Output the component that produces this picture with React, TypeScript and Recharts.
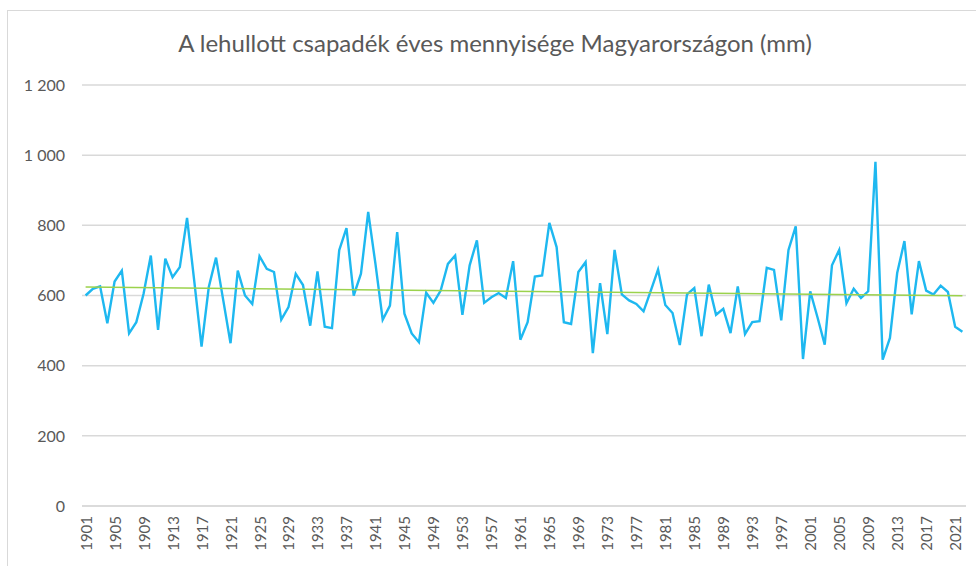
import React from "react";
import {
  LineChart,
  Line,
  XAxis,
  YAxis,
  CartesianGrid,
  ReferenceLine,
} from "recharts";

const firstYear = 1901;

// annual precipitation, mm
const rainfall = [
  600, 619, 626, 521, 640, 671, 492, 524, 605, 714,
  502, 705, 652, 681, 821, 640, 454, 624, 708, 586,
  464, 671, 600, 576, 712, 676, 667, 531, 567, 662,
  630, 514, 669, 511, 507, 729, 792, 600, 662, 838,
  690, 531, 571, 781, 548, 492, 467, 608, 579, 614,
  690, 714, 545, 686, 757, 579, 595, 607, 593, 698,
  474, 524, 654, 657, 807, 738, 524, 519, 667, 695,
  436, 635, 490, 730, 603, 586, 576, 555, 614, 674,
  573, 550, 459, 603, 621, 484, 631, 545, 562, 493,
  626, 490, 524, 527, 679, 673, 529, 730, 797, 419,
  612, 538, 460, 686, 730, 578, 619, 593, 612, 981,
  417, 479, 664, 755, 546, 698, 614, 603, 628, 610,
  511, 497,
];

const years = rainfall.map((_, i) => firstYear + i);

// linear trend, start and end values
const trendEnds = [624, 599];

const yTicks = [0, 200, 400, 600, 800, 1000, 1200];

const data = years.map((year, i) => ({ year, mm: rainfall[i] }));

const textColor = "#595959";
const gridColor = "#D9D9D9";
const font = "Lato, 'Noto Sans', sans-serif";

const fmt = (v: number) => (v >= 1000 ? v.toString().replace(/^(\d)(\d{3})$/, "$1 $2") : String(v));

function YearTick({ x, y, payload }: any) {
  return (
    <text
      transform={`translate(${x},${y}) rotate(-90)`}
      textAnchor="end"
      dominantBaseline="central"
      fill={textColor}
      fontSize={15}
      fontFamily={font}
    >
      {payload.value}
    </text>
  );
}

export default function App() {
  return (
    <div
      style={{
        position: "absolute",
        left: 0,
        top: 0,
        width: 976,
        height: 566,
        overflow: "hidden",
        background: "#fff",
      }}
    >
      <div
        style={{
          position: "absolute",
          left: 7,
          top: 10,
          right: 0,
          bottom: 0,
          borderTop: `1px solid ${gridColor}`,
          borderLeft: `1px solid ${gridColor}`,
        }}
      />
      <div
        style={{
          position: "absolute",
          left: 0,
          top: 28,
          width: 990,
          textAlign: "center",
          fontFamily: font,
          fontSize: 24,
          color: textColor,
        }}
      >
        A lehullott csapadék éves mennyisége Magyarországon (mm)
      </div>
      <LineChart
        width={976}
        height={566}
        data={data}
        margin={{ top: 85, right: 10, left: 0, bottom: 0 }}
        style={{ position: "absolute", left: 0, top: 0 }}
      >
        <CartesianGrid vertical={false} stroke={gridColor} strokeWidth={1.5} />
        <XAxis
          dataKey="year"
          interval={3}
          height={60}
          padding={{ left: 3.6, right: 3.6 }}
          axisLine={{ stroke: gridColor, strokeWidth: 1.5 }}
          tickLine={false}
          tickSize={0}
          tickMargin={10}
          tick={<YearTick />}
        />
        <YAxis
          domain={[0, 1200]}
          ticks={yTicks}
          width={82}
          axisLine={false}
          tickLine={false}
          tickSize={0}
          tickMargin={17}
          tickFormatter={fmt}
          tick={{ fill: textColor, fontSize: 16, fontFamily: font }}
        />
        <Line
          type="linear"
          dataKey="mm"
          stroke="#1EB8F0"
          strokeWidth={2.4}
          dot={false}
          isAnimationActive={false}
        />
        <ReferenceLine
          segment={[
            { x: years[0], y: trendEnds[0] },
            { x: years[years.length - 1], y: trendEnds[1] },
          ]}
          stroke="#9BD24C"
          strokeWidth={1.5}
        />
      </LineChart>
    </div>
  );
}
